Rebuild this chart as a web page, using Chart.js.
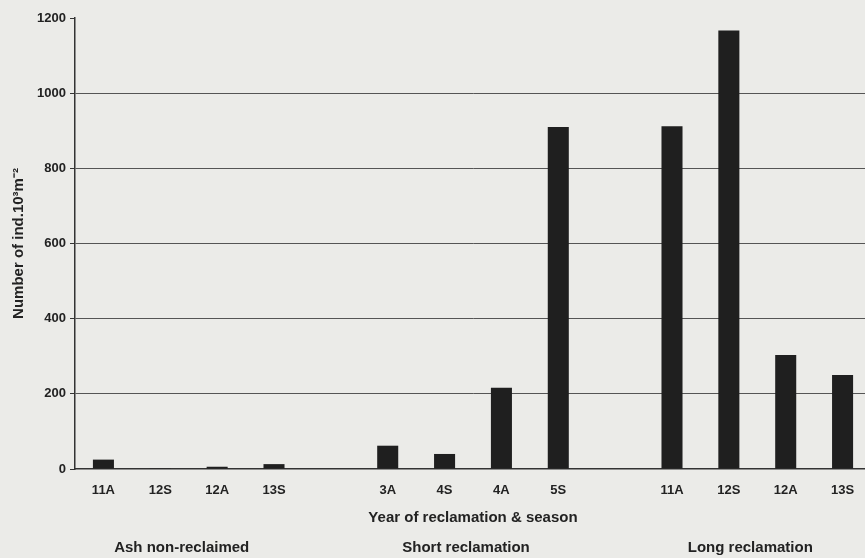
<!DOCTYPE html>
<html>
<head>
<meta charset="utf-8">
<script src="https://cdn.jsdelivr.net/npm/chart.js@4"></script>
<style>
  html, body { margin: 0; padding: 0; background: #ebebe8; overflow: hidden; }
  #wrap { position: relative; width: 871px; height: 558px; }
</style>
</head>
<body>
<div id="wrap"><canvas id="myChart"></canvas></div>
<script>
// categories (empty slots separate the three groups)
var categories = ['11A', '12S', '12A', '13S', '', '3A', '4S', '4A', '5S', '', '11A', '12S', '12A', '13S'];
// individuals per 10^3 m^-2
var values = [25, 2, 6, 13, null, 62, 40, 216, 910, null, 912, 1167, 303, 250];
var yTicks = [0, 200, 400, 600, 800, 1000, 1200];
var groupNames = ['Ash non-reclaimed', 'Short reclamation', 'Long reclamation'];
var groupStart = [0, 5, 10];
var groupEnd = [3, 8, 13];

var FONT = '"Liberation Sans", Arial, sans-serif';
var INK = '#222';

// group labels under the axis title
var groupLabels = {
  id: 'groupLabels',
  afterDraw: function(chart) {
    var x = chart.scales.x;
    var c = chart.ctx;
    c.save();
    c.font = 'bold 15px ' + FONT;
    c.fillStyle = INK;
    c.textAlign = 'center';
    c.textBaseline = 'middle';
    for (var i = 0; i < groupNames.length; i++) {
      var cx = (x.getPixelForValue(groupStart[i]) + x.getPixelForValue(groupEnd[i])) / 2;
      c.fillText(groupNames[i], cx - 7, 548);
    }
    c.restore();
  }
};

var ctx = document.getElementById('myChart').getContext('2d');
var myChart = new Chart(ctx, {
  type: 'bar',
  data: {
    labels: categories,
    datasets: [{
      data: values,
      backgroundColor: '#1f1f1f',
      borderWidth: 0,
      barPercentage: 0.37,
      categoryPercentage: 1
    }]
  },
  options: {
    responsive: true,
    maintainAspectRatio: false,
    animation: false,
    layout: { padding: { top: 18, right: 0, bottom: 0, left: 0 } },
    plugins: {
      legend: { display: false },
      tooltip: { enabled: false }
    },
    scales: {
      x: {
        afterFit: function(s) { s.height = 89; },
        grid: { display: false, drawTicks: false },
        border: { display: true, color: '#333', width: 1.5 },
        ticks: { color: INK, font: { family: FONT, size: 13, weight: 'bold' }, padding: 14, maxRotation: 0, autoSkip: false },
        title: {
          display: true,
          text: 'Year of reclamation & season',
          color: INK,
          font: { family: FONT, size: 15, weight: 'bold' },
          padding: { top: 0, bottom: 31 }
        }
      },
      y: {
        min: 0,
        max: 1200,
        afterFit: function(s) { s.width = 75; },
        afterBuildTicks: function(s) { s.ticks = yTicks.map(function(v) { return { value: v }; }); },
        grid: {
          color: function(c) { return (c.tick && (c.tick.value === 1200 || c.tick.value === 0)) ? 'rgba(0,0,0,0)' : '#555'; },
          tickColor: '#333',
          tickLength: 5,
          lineWidth: 1
        },
        border: { display: true, color: '#333', width: 1.5 },
        ticks: {
          color: INK,
          font: { family: FONT, size: 13, weight: 'bold' },
          padding: 4,
          callback: function(v) { return String(v); }
        },
        title: {
          display: true,
          text: 'Number of ind.10³m⁻²',
          color: INK,
          font: { family: FONT, size: 15, weight: 'bold' },
          padding: { top: 10, bottom: 0 }
        }
      }
    }
  },
  plugins: [groupLabels]
});
</script>
</body>
</html>
